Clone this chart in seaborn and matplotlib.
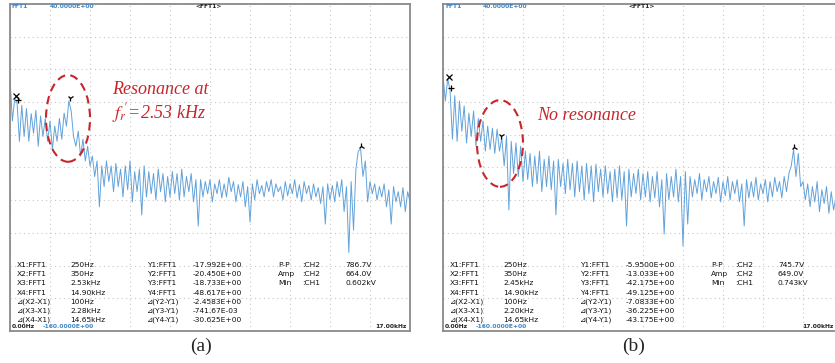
import numpy as np
import pandas as pd
import matplotlib.pyplot as plt
import seaborn as sns
from matplotlib.patches import Ellipse

# FFT spectra, one value every 100 Hz (dB)
spec_a = [-5, -31.6, -18, -20.5, -44, -22, -41, -24, -44, -27,
          -39, -25, -47, -28.5, -41, -30, -44, -31.6, -49, -34.7,
          -44, -30, -42.7, -26.7, -34.7, -19.3, -25.4, -41, -47, -37.8,
          -53, -42.7, -56, -47, -59, -53, -65.5, -56, -84, -59,
          -71.7, -56, -68.6, -59, -74.8, -57.5, -71.7, -61, -78, -59,
          -73.6, -56, -81, -62.5, -74.8, -61, -89, -59, -78, -62.5,
          -76, -63.7, -79.8, -61, -74.8, -63.7, -81, -65.5, -78, -62.5,
          -76, -63.7, -79.8, -61, -78, -65.5, -74.8, -63.7, -81, -67.4,
          -95.8, -67.4, -78, -68.6, -76, -67.4, -81, -70, -76, -67.4,
          -78.6, -70, -78, -66, -74.8, -68.6, -81, -70.5, -78, -68.6,
          -84, -71.7, -93.3, -70, -79.8, -67.4, -76, -71, -78, -68.6,
          -74.8, -67.4, -78, -70, -74.8, -71.7, -79.8, -68.6, -77.3, -70,
          -76, -67.4, -78.6, -70.5, -81, -68.6, -76, -71, -79.8, -70,
          -78, -72.3, -82, -71.7, -94.6, -70, -79.8, -71, -81, -68.6,
          -78, -67.4, -87, -71.7, -112, -68.6, -98.3, -61, -50, -48.6,
          -65.5, -56, -81, -68.6, -76, -70, -79.8, -71.7, -78, -70,
          -84, -73.6, -94.6, -71.7, -81, -74.8, -84, -72.3, -87, -74.8, -81]

spec_b = [-3.8, -19.3, -5.7, -13, -42.7, -16, -44, -19.3, -37.8, -22.3,
          -45, -26.7, -41, -25.4, -47, -30, -44, -31.6, -50, -34.7,
          -49, -36, -51.4, -36.5, -50, -42, -59, -41, -86, -44,
          -63.7, -45, -65.5, -47, -68.6, -50, -67.4, -51.4, -71.7, -53,
          -70, -50, -74.8, -55, -71.7, -53, -73.6, -56, -89, -55,
          -71.7, -57.5, -76, -55, -73.6, -57.5, -78, -56, -74.8, -59,
          -79.8, -57.5, -76, -59, -81, -58, -74.8, -61, -78, -59,
          -76, -62.5, -81, -61, -78.6, -59, -79.8, -62.5, -95.8, -61,
          -78, -63.7, -76, -61, -79.8, -63.7, -78, -62.5, -81, -65.5,
          -78.6, -62.5, -84, -67.4, -100.7, -63.7, -79.8, -65.5, -78, -61,
          -81, -65.5, -108, -62.5, -94.6, -65.5, -78, -67.4, -76, -63.7,
          -79.8, -67.4, -74.8, -65.5, -78.6, -68.6, -76, -66, -81, -68.6,
          -77.3, -65.5, -79.8, -68.6, -76, -67.4, -81, -70, -95.8, -67.4,
          -78.6, -68.6, -78, -66, -79.8, -70, -76, -67.4, -81, -68.6,
          -78, -66, -74.8, -68.6, -78.6, -65.5, -74.8, -63.7, -59, -49.1,
          -65.5, -51.4, -71.7, -68.6, -79.8, -70, -84, -71.7, -81, -68.6,
          -87, -73.6, -82, -71.7, -88, -74.8, -86, -78, -84, -76, -82]

# cursor readouts
cur_f_a = [250, 350, 2530, 14900]
cur_v_a = [-17.992, -20.450, -18.733, -48.617]
cur_f_b = [250, 350, 2450, 14900]
cur_v_b = [-5.950, -13.033, -42.175, -49.125]
cur_markers = ['x', '+', '1', '2']

row_x = ['X1:FFT1', 'X2:FFT1', 'X3:FFT1', 'X4:FFT1', '⊿(X2-X1)', '⊿(X3-X1)', '⊿(X4-X1)']
row_y = ['Y1:FFT1', 'Y2:FFT1', 'Y3:FFT1', 'Y4:FFT1', '⊿(Y2-Y1)', '⊿(Y3-Y1)', '⊿(Y4-Y1)']
xval_a = ['250Hz', '350Hz', '2.53kHz', '14.90kHz', '100Hz', '2.28kHz', '14.65kHz']
yval_a = ['-17.992E+00', '-20.450E+00', '-18.733E+00', '-48.617E+00', '-2.4583E+00', '-741.67E-03', '-30.625E+00']
xval_b = ['250Hz', '350Hz', '2.45kHz', '14.90kHz', '100Hz', '2.20kHz', '14.65kHz']
yval_b = ['-5.9500E+00', '-13.033E+00', '-42.175E+00', '-49.125E+00', '-7.0833E+00', '-36.225E+00', '-43.175E+00']
meas_name = ['P-P', 'Amp', 'Min']
meas_ch = [':CH2', ':CH2', ':CH1']
meas_a = ['786.7V', '664.0V', '0.602kV']
meas_b = ['745.7V', '649.0V', '0.743kV']

sns.set_style('white')
plt.rcParams['font.family'] = ['DejaVu Sans']
plt.rcParams['mathtext.fontset'] = 'stix'

W, H = 835, 363
fig = plt.figure(figsize=(W / 100, H / 100), dpi=100)
line_col = '#62a2da'
hdr_col = '#3f86c8'
red = '#c8252b'


def fx(x):
    return x / W


def fy(y):
    return 1 - y / H


def draw_panel(left, spec, cf, cv, xvals, yvals, meas, caption, right_edge):
    ax = fig.add_axes([fx(left), fy(331), 400 / W, 327 / H])
    df = pd.DataFrame({'freq': np.arange(len(spec)) * 100, 'db': spec})
    sns.lineplot(data=df, x='freq', y='db', ax=ax, color=line_col,
                 linewidth=0.7, estimator=None)
    for f, v, m in zip(cf, cv, cur_markers):
        ax.plot(f, v + 1.5, marker=m, color='black', markersize=4.5, mew=0.9)
    ax.set_xlim(0, 17000)
    ax.set_ylim(-160, 40)
    ax.set_xticks(np.linspace(0, 17000, 11))
    ax.set_yticks(np.linspace(-160, 40, 11))
    ax.tick_params(length=0, labelbottom=False, labelleft=False)
    ax.grid(True, linestyle=(0, (1, 3)), color='#c8c8c8', linewidth=0.8)
    ax.set_xlabel('')
    ax.set_ylabel('')
    for s in ax.spines.values():
        s.set_color('#8a8a8a')
        s.set_linewidth(1.3)

    # screen header / footer texts
    small = dict(fontsize=4.3, fontweight='bold')
    fig.text(fx(left + 2), fy(7), 'FFT1', color=hdr_col, va='center', **small)
    fig.text(fx(left + 84), fy(7), '40.0000E+00', color=hdr_col, va='center', ha='right', **small)
    fig.text(fx(left + 199), fy(7), '<FFT1>', color='#222222', va='center', ha='center', **small)
    fig.text(fx(left + 2), fy(327), '0.00Hz', color='#222222', va='center', **small)
    fig.text(fx(left + 84), fy(327), '-160.0000E+00', color=hdr_col, va='center', ha='right', **small)
    fig.text(fx(right_edge), fy(327), '17.00kHz', color='#222222', va='center', ha='right', **small)

    # cursor readout
    rd = dict(fontsize=5.4, color='#111111', va='center')
    for k in range(7):
        y = 265 + k * 9.2
        fig.text(fx(left + 7), fy(y), row_x[k], **rd)
        fig.text(fx(left + 60), fy(y), xvals[k], **rd)
        fig.text(fx(left + 137), fy(y), row_y[k], **rd)
        fig.text(fx(left + 183), fy(y), yvals[k], **rd)
    for k in range(3):
        y = 265 + k * 9.2
        fig.text(fx(left + 268), fy(y), meas_name[k], **rd)
        fig.text(fx(left + 292), fy(y), meas_ch[k], **rd)
        fig.text(fx(left + 335), fy(y), meas[k], **rd)

    fig.text(fx(left + 191), fy(346), caption, fontsize=14, family='Liberation Serif',
             ha='center', va='center')
    return ax


ax_a = draw_panel(10, spec_a, cur_f_a, cur_v_a, xval_a, yval_a, meas_a, '(a)', 407)
ax_b = draw_panel(443, spec_b, cur_f_b, cur_v_b, xval_b, yval_b, meas_b, '(b)', 834)

# highlighted regions
ax_a.add_patch(Ellipse((2465, -30), 1870, 53, fill=False, edgecolor=red,
                       linestyle=(0, (4, 2.5)), linewidth=1.5, zorder=5))
ax_b.add_patch(Ellipse((2422, -45.3), 1955, 53, fill=False, edgecolor=red,
                       linestyle=(0, (4, 2.5)), linewidth=1.5, zorder=5))

serif_it = dict(family='Liberation Serif', style='italic', color=red, fontsize=13, va='center')
ax_a.text(4335, -12, 'Resonance at', **serif_it)
ax_a.text(4335, -26.5, r"$f_r\!'$=2.53 kHz", **serif_it)
ax_b.text(3995, -27.9, 'No resonance', **serif_it)

plt.savefig('out.png', dpi=100)
